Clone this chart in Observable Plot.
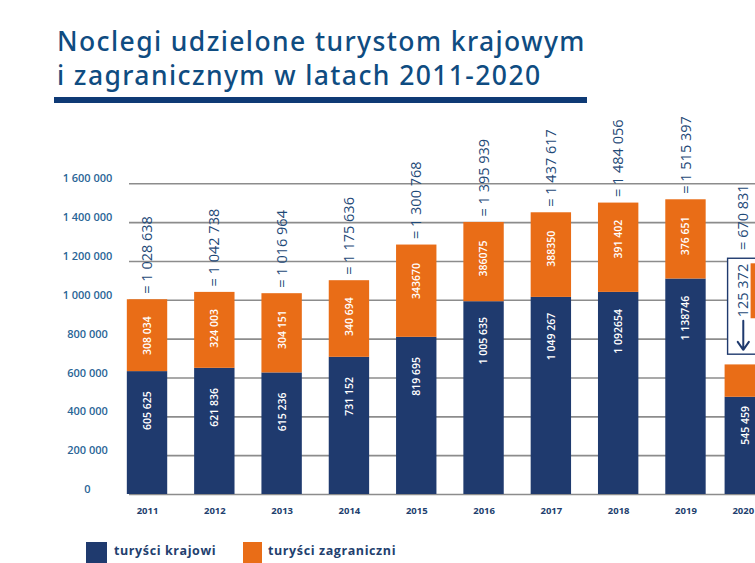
<!DOCTYPE html>
<html lang="pl">
<head>
<meta charset="utf-8">
<script src="https://cdn.jsdelivr.net/npm/d3@7"></script>
<script src="https://cdn.jsdelivr.net/npm/@observablehq/plot@0.6"></script>
<style>
html,body{margin:0;padding:0;background:#fff;overflow:hidden;width:755px;height:563px}
#page{position:relative;width:755px;height:563px;overflow:hidden;font-family:"Open Sans",sans-serif}
#head{height:108px;position:relative}
h1{position:absolute;left:57px;top:24px;margin:0;font:500 26.5px/34px "Noto Sans",sans-serif;color:#0f4c81;letter-spacing:1.4px;white-space:nowrap}
#bar{position:absolute;left:54px;top:97px;width:533px;height:6px;background:#0e3a75}
#chart svg{display:block}
#legend{position:absolute;left:0;top:541px;height:22px;width:755px;font:700 12.5px/20px "Open Sans",sans-serif;color:#22406e;letter-spacing:.6px}
#legend i{position:absolute;top:1px;height:21px;display:block}
#legend span{position:absolute;top:0;white-space:nowrap}
</style>
</head>
<body>
<div id="page">
  <div id="head"><h1>Noclegi udzielone turystom krajowym<br>i zagranicznym w latach 2011-2020</h1><div id="bar"></div></div>
  <div id="chart"></div>
  <div id="legend">
    <i style="left:86px;width:21px;background:#1f3a6e"></i><span style="left:114px">turyści krajowi</span>
    <i style="left:243px;width:19px;background:#e96d17"></i><span style="left:268px">turyści zagraniczni</span>
  </div>
</div>
<script>
const years = ["2011","2012","2013","2014","2015","2016","2017","2018","2019","2020"];
const domesticBars = [632800,649800,626100,706400,809300,992900,1015000,1040800,1109700,500600];
const foreignBars  = [370200,391000,408000,394600,475300,408000,435800,459900,408000,166700];
const domesticLabels = ["605 625","621 836","615 236","731 152","819 695","1 005 635","1 049 267","1 092654","1 138746","545 459"];
const foreignLabels  = ["308 034","324 003","304 151","340 694","343670","386075","388350","391 402","376 651"];
const totalLabels = ["= 1 028 638","= 1 042 738","= 1 016 964","= 1 175 636","= 1 300 768","= 1 395 939","= 1 437 617","= 1 484 056","= 1 515 397","= 670 831"];
const yTicks = [0,200000,400000,600000,800000,1000000,1200000,1400000,1600000];
const seriesNames = ["turyści krajowi","turyści zagraniczni"];
const colors = ["#1f3a6e","#e96d17"];
const noteText = "125 372";
const noteBox = {top:1214000,bottom:720000};
const noteBar = {top:1188000,bottom:905000};
const noteLabelAt = 1188000;
const noteArrow = {from:895000,to:745000};

const rows = years.map((year,i)=>({year,domestic:domesticBars[i],foreign:foreignBars[i],total:domesticBars[i]+foreignBars[i],
  dLabel:domesticLabels[i],fLabel:foreignLabels[i],tLabel:totalLabels[i]}));
const past = rows.slice(0,9), last = rows.slice(9);
const stack = rows.flatMap(r=>[{year:r.year,value:r.domestic,s:seriesNames[0]},{year:r.year,value:r.foreign,s:seriesNames[1]}]);
const shift = -8;
const spaced = d=>d3.format(",")(d).replace(/,/g," ");
const white = {fill:"#fff",rotate:-90,fontSize:10.5,fontWeight:600,fontFamily:"Open Sans"};
const total = {fill:"#1f4a78",rotate:-90,fontSize:14.5,fontFamily:"Open Sans",textAnchor:"start"};
const yearStyle = {tickSize:0,tickPadding:13,label:null,fill:"#22406e",fontSize:9.5,fontWeight:700,fontFamily:"Open Sans"};

const plot = Plot.plot({
  width:755,height:420,marginLeft:129,marginRight:0,marginTop:0,marginBottom:34,
  x:{type:"band",domain:years,range:[99.9,799.9],padding:0.4,round:false},
  y:{domain:[0,1600000],range:[386,75.3]},
  color:{domain:seriesNames,range:colors},
  marks:[
    Plot.ruleY(yTicks,{stroke:"#8c8c8c",strokeWidth:1.6}),
    Plot.barY(stack.filter(d=>d.year!=="2020"),{x:"year",y:"value",fill:"s",order:seriesNames}),
    Plot.barY(stack.filter(d=>d.year==="2020"),{x:"year",y:"value",fill:"s",order:seriesNames,dx:shift}),
    Plot.rect(last,{x:"year",y1:()=>noteBox.bottom,y2:()=>noteBox.top,dx:shift,insetLeft:3,insetRight:-20,fill:"#fff",stroke:"#1f3a6e",strokeWidth:1.4}),
    Plot.rect(last,{x:"year",y1:()=>noteBar.bottom,y2:()=>noteBar.top,dx:shift,insetLeft:26,fill:colors[1]}),
    Plot.text(last,{x:"year",y:()=>noteLabelAt,text:()=>noteText,dx:-10,...total,textAnchor:"end"}),
    Plot.arrow(last,{x1:"year",x2:"year",y1:()=>noteArrow.from,y2:()=>noteArrow.to,dx:-10,bend:0,stroke:"#1f3a6e",strokeWidth:2,headLength:11,headAngle:70}),
    Plot.axisY({ticks:yTicks,tickSize:0,tickPadding:42,textAnchor:"middle",dy:-5,tickFormat:spaced,label:null,fill:"#2a6596",fontSize:11,fontWeight:600,fontFamily:"Open Sans"}),
    Plot.axisX({ticks:years.slice(0,9),...yearStyle}),
    Plot.axisX({ticks:["2020"],dx:-10,...yearStyle}),
    Plot.text(past,{x:"year",y:"domestic",text:"dLabel",dy:39,...white}),
    Plot.text(last,{x:"year",y:"domestic",text:"dLabel",dy:28,dx:-8,...white}),
    Plot.text(past,{x:"year",y:"total",text:"fLabel",dy:36,...white}),
    Plot.text(past,{x:"year",y:"total",text:"tLabel",dy:-6,...total}),
    Plot.text(last,{x:"year",y:"total",text:"tLabel",dy:-115,dx:-10,...total})
  ]
});
document.getElementById("chart").appendChild(plot);
</script>
</body>
</html>
